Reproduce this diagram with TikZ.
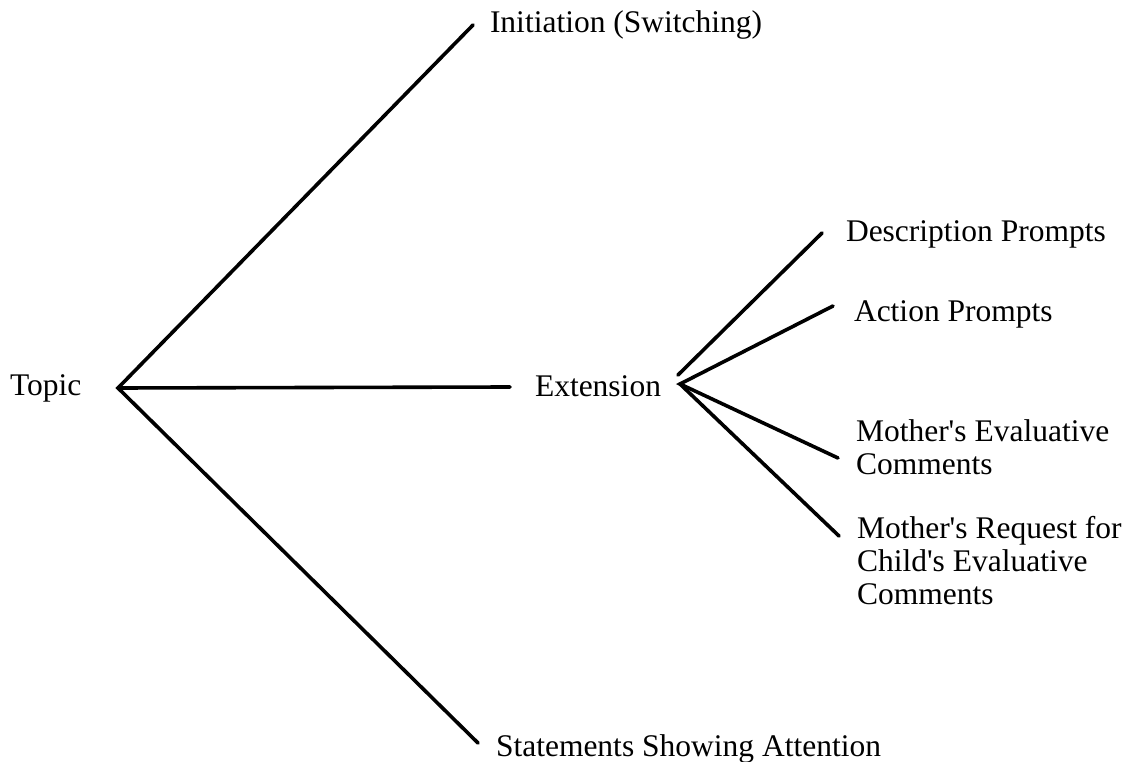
\documentclass[tikz,border=0pt]{standalone}
\usepackage{fontspec}
\setmainfont{Liberation Serif}[Ligatures=TeXOff]
\begin{document}
\begin{tikzpicture}[x=1pt,y=1pt,
  lbl/.style={anchor=base west,inner sep=0pt,outer sep=0pt,align=left,font=\fontsize{31.5}{33}\selectfont},
  branch/.style={line width=3.6pt,line cap=round}]
\useasboundingbox (0,0) rectangle (1144,-762);
% labels (base = last line for multi-line labels)
\node[lbl] (topic) at (10,-395) {Topic};
\node[lbl] (init) at (490,-33) {Initiation (Switching)};
\node[lbl] (ext) at (535,-396) {Extension};
\node[lbl] (stat) at (496,-756) {Statements Showing Attention};
\node[lbl] (desc) at (846,-242) {Description Prompts};
\node[lbl] (act) at (854,-322) {Action Prompts};
\node[lbl] (meval) at (856,-474) {Mother's Evaluative\\Comments};
\node[lbl] (req) at (857,-604) {Mother's Request for\\Child's Evaluative\\Comments};
% connector end points
\coordinate (tv) at (118,-388);
\coordinate (tinit) at (473,-25);
\coordinate (text) at (510,-387);
\coordinate (tstat) at (478,-743);
\coordinate (ev) at (680,-384);
\coordinate (evd) at (678,-375);
\coordinate (edesc) at (822,-233);
\coordinate (eact) at (833,-306);
\coordinate (emeval) at (838,-458);
\coordinate (ereq) at (839,-536);
% connectors
\draw[branch] (tinit) -- (tv) -- (tstat);
\draw[branch] (tv) -- (text);
\draw[branch] (evd) -- (edesc);
\draw[branch] (eact) -- (ev) -- (emeval);
\draw[branch] (ev) -- (ereq);
\end{tikzpicture}
\end{document}
